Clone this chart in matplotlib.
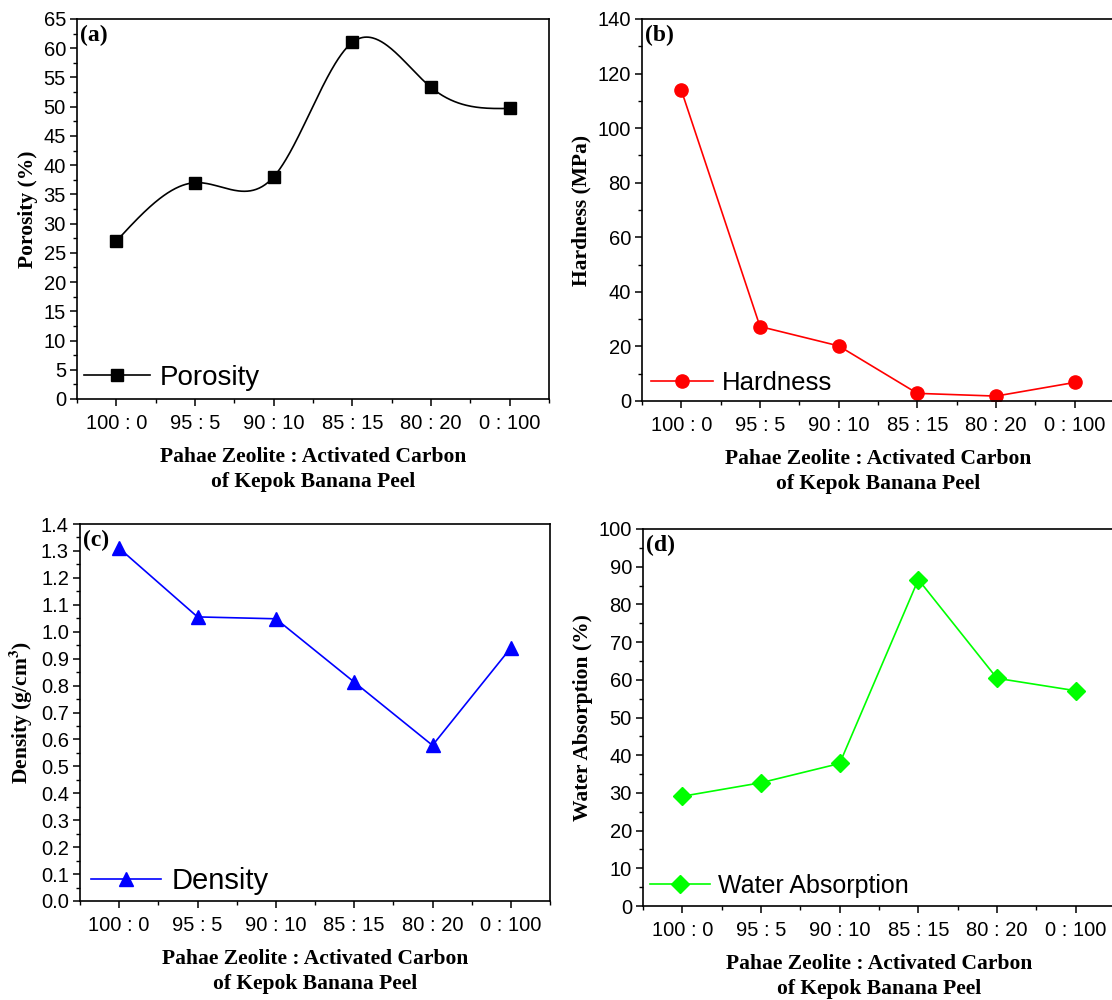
#!/usr/bin/env python3
"""
Four-panel plot: porosity, hardness, density and water absorption of
Pahae zeolite / kepok banana peel activated carbon composites.
"""
import matplotlib
matplotlib.use("Agg")
import matplotlib.pyplot as plt
import numpy as np

RATIOS = ["100 : 0", "95 : 5", "90 : 10", "85 : 15", "80 : 20", "0 : 100"]

POROSITY = [27.0, 37.0, 38.0, 61.0, 53.3, 49.7]
HARDNESS = [113.9, 27.3, 20.2, 2.8, 1.8, 6.8]
DENSITY = [1.31, 1.055, 1.048, 0.813, 0.578, 0.94]
WATER_ABS = [29.1, 32.7, 37.8, 86.6, 60.4, 57.1]

XLABEL = "Pahae Zeolite : Activated Carbon\nof Kepok Banana Peel"
SANS = "Liberation Sans"
SERIF = "Liberation Serif"

plt.rcParams["mathtext.fontset"] = "stix"

# (name, values, ylabel, legend label, color, marker, ms, ylim, major, minor, fmt, legend font, axes rect px, legend anchor)
PANELS = [
    ("(a)", POROSITY, "Porosity (%)", "Porosity", "black", "s", 9,
     (0, 65), 5, 2.5, "{:.0f}", 20, (77, 19, 549, 399), (0.014, 0.055), True),
    ("(b)", HARDNESS, "Hardness (MPa)", "Hardness", "#ff0000", "o", 9.5,
     (0, 140), 20, 10, "{:.0f}", 18.5, (642, 19, 1114, 401), (0.019, 0.048), False),
    ("(c)", DENSITY, r"Density (g/cm$^{\mathbf{3}}$)", "Density", "#0000ff", "^", 10.5,
     (0, 1.4), 0.1, 0.05, "{:.1f}", 21, (80, 524, 550, 901), (0.024, 0.053), False),
    ("(d)", WATER_ABS, "Water Absorption (%)", "Water Absorption", "#00ff00", "D", 9,
     (0, 100), 10, 5, "{:.0f}", 18, (643, 529, 1115, 906), (0.014, 0.053), False),
]

W, H = 1112, 1000


def natural_spline(y, n=400):
    # natural cubic spline through equally spaced points (Origin-like "Spline" line)
    y = np.asarray(y, dtype=float)
    k = len(y)
    A = np.zeros((k, k))
    rhs = np.zeros(k)
    A[0, 0] = A[-1, -1] = 1
    for i in range(1, k - 1):
        A[i, i - 1:i + 2] = [1, 4, 1]
        rhs[i] = 6 * (y[i + 1] - 2 * y[i] + y[i - 1])
    M = np.linalg.solve(A, rhs)
    xs = np.linspace(0, k - 1, n)
    seg = np.minimum(xs.astype(int), k - 2)
    t = xs - seg
    ys = ((1 - t) * y[seg] + t * y[seg + 1]
          - t * (1 - t) / 6 * ((2 - t) * M[seg] + (1 + t) * M[seg + 1]))
    return xs, ys


fig = plt.figure(figsize=(W / 100, H / 100), dpi=100)

for (tag, vals, ylabel, leg, color, marker, ms, ylim, major, minor, fmt,
     legfs, (x0, y0, x1, y1), anchor, smooth) in PANELS:
    ax = fig.add_axes([x0 / W, 1 - y1 / H, (x1 - x0) / W, (y1 - y0) / H])
    x = np.arange(len(RATIOS))

    if smooth:
        xs, ys = natural_spline(vals)
        ax.plot(xs, ys, color=color, lw=1.2)
        ax.plot(x, vals, color=color, marker=marker, ms=ms, linestyle="none")
        legend_handle = plt.Line2D([], [], color=color, lw=1.2, marker=marker, ms=ms)
    else:
        legend_handle, = ax.plot(x, vals, color=color, lw=1.2, marker=marker, ms=ms)

    ax.set_xlim(-0.5, len(RATIOS) - 0.5)
    ax.set_ylim(*ylim)
    ax.set_xticks(x)
    ax.set_xticklabels(RATIOS, fontname=SANS, fontsize=14.5)
    ax.set_xticks(np.arange(-0.5, len(RATIOS), 1.0), minor=True)
    yt = np.arange(ylim[0], ylim[1] + major / 2, major)
    ax.set_yticks(yt)
    ax.set_yticklabels([fmt.format(v) for v in yt], fontname=SANS, fontsize=14.5)
    ax.set_yticks(np.arange(ylim[0], ylim[1] + minor / 2, minor), minor=True)
    ax.tick_params(which="major", direction="out", length=5, width=1.1,
                   top=False, right=False, pad=3)
    ax.tick_params(which="minor", direction="out", length=3, width=1.0,
                   top=False, right=False)
    ax.tick_params(axis="x", which="major", pad=6)
    for sp in ax.spines.values():
        sp.set_linewidth(1.2)

    ax.set_xlabel(XLABEL, fontname=SERIF, fontweight="bold", fontsize=15.5,
                  labelpad=10, linespacing=1.3)
    ax.set_ylabel(ylabel, fontname=SERIF, fontweight="bold", fontsize=15.5, labelpad=4)

    ax.text(0.006, 0.985, tag, transform=ax.transAxes, ha="left", va="top",
            fontname=SERIF, fontweight="bold", fontsize=17)

    ax.legend([legend_handle], [leg], loc="center left", bbox_to_anchor=anchor,
              frameon=False, borderpad=0, borderaxespad=0, handlelength=2.4,
              handletextpad=0.35, prop={"family": SANS, "size": legfs})

fig.savefig("out.png", dpi=100)
